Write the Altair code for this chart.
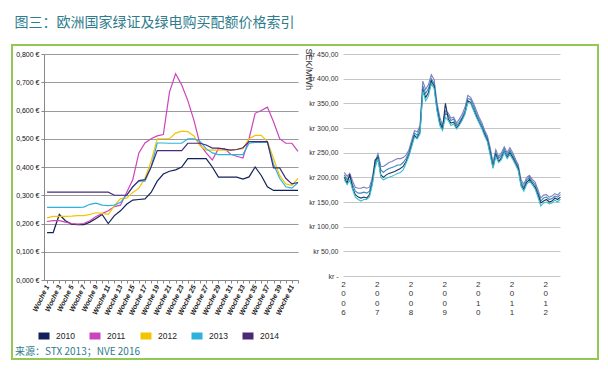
import altair as alt
import pandas as pd

# ---------------- left panel data (EUR per certificate, weekly) ----------------
weeks = list(range(1, 43))
years_left = ["2010", "2011", "2012", "2013", "2014"]
colors_left = ["#13215a", "#cc44bb", "#f2c500", "#2cb2dc", "#4a2a78"]

v2010 = [0.168, 0.168, 0.232, 0.210, 0.198, 0.196, 0.196, 0.205, 0.218, 0.232,
         0.200, 0.228, 0.245, 0.268, 0.283, 0.285, 0.287, 0.310, 0.350, 0.375,
         0.385, 0.390, 0.400, 0.430, 0.430, 0.430, 0.430, 0.400, 0.364, 0.364,
         0.364, 0.364, 0.357, 0.365, 0.400, 0.370, 0.330, 0.317, 0.317, 0.317,
         0.317, 0.317]
v2011 = [0.207, 0.210, 0.210, 0.205, 0.200, 0.198, 0.200, 0.210, 0.225, 0.235,
         0.245, 0.260, 0.265, 0.310, 0.355, 0.450, 0.485, 0.500, 0.510, 0.515,
         0.665, 0.730, 0.690, 0.635, 0.565, 0.480, 0.450, 0.425, 0.465, 0.465,
         0.445, 0.438, 0.432, 0.500, 0.590, 0.600, 0.612, 0.560, 0.500, 0.484,
         0.484, 0.455]
v2012 = [0.220, 0.225, 0.225, 0.225, 0.226, 0.228, 0.228, 0.232, 0.238, 0.236,
         0.232, 0.262, 0.288, 0.290, 0.310, 0.325, 0.360, 0.420, 0.500, 0.500,
         0.500, 0.520, 0.527, 0.525, 0.510, 0.475, 0.460, 0.460, 0.460, 0.460,
         0.460, 0.462, 0.465, 0.500, 0.512, 0.512, 0.490, 0.430, 0.370, 0.340,
         0.335, 0.360]
v2013 = [0.257, 0.257, 0.257, 0.257, 0.257, 0.257, 0.258, 0.268, 0.272, 0.265,
         0.263, 0.265, 0.275, 0.300, 0.330, 0.350, 0.350, 0.400, 0.485, 0.485,
         0.484, 0.484, 0.484, 0.500, 0.500, 0.490, 0.465, 0.450, 0.444, 0.444,
         0.444, 0.444, 0.444, 0.484, 0.487, 0.487, 0.487, 0.410, 0.360, 0.330,
         0.325, 0.345]
v2014 = [0.311, 0.311, 0.311, 0.311, 0.311, 0.311, 0.311, 0.311, 0.311, 0.311,
         0.311, 0.300, 0.300, 0.300, 0.330, 0.352, 0.355, 0.400, 0.458, 0.458,
         0.458, 0.458, 0.458, 0.484, 0.484, 0.484, 0.478, 0.467, 0.467, 0.463,
         0.460, 0.462, 0.468, 0.490, 0.490, 0.490, 0.490, 0.397, 0.397, 0.360,
         0.340, 0.345]
left_ticks = [0.0, 0.1, 0.2, 0.3, 0.4, 0.5, 0.6, 0.7, 0.8]

# ---------------- right panel data (SEK/MWh, monthly 2006-01 .. 2012-06) ----------------
series_right = ["A", "B", "C", "D"]
colors_right = ["#7f82bb", "#3f86c0", "#1c3557", "#38bfd2"]
s_top = [210, 202, 208, 192, 180, 178, 178, 180, 178, 180, 200, 232,
         248, 222, 222, 226, 230, 232, 235, 238, 238, 240, 245, 255,
         275, 295, 292, 305, 395, 378, 388, 408, 398, 352, 322, 305,
         335, 330, 320, 322, 310, 318, 328, 342, 366, 362, 350, 336,
         322, 310, 296, 284, 260, 230, 256, 242, 250, 262, 250, 260,
         250, 236, 226, 195, 186, 200, 204, 196, 190, 175, 158, 164,
         165, 160, 162, 167, 164, 170]
s_mid = [205, 195, 203, 185, 172, 168, 168, 170, 168, 172, 195, 225,
         245, 215, 210, 215, 218, 220, 222, 225, 225, 230, 238, 250,
         270, 290, 285, 300, 385, 370, 380, 400, 390, 345, 315, 300,
         330, 325, 315, 318, 305, 312, 322, 335, 360, 358, 345, 330,
         318, 305, 292, 280, 255, 225, 250, 238, 245, 258, 245, 255,
         245, 232, 222, 190, 180, 195, 200, 192, 185, 170, 152, 158,
         160, 155, 157, 162, 160, 165]
s_navy = [200, 188, 206, 178, 165, 160, 158, 160, 158, 165, 188, 235,
          240, 205, 200, 205, 208, 210, 212, 215, 218, 222, 232, 245,
          265, 285, 280, 292, 378, 362, 372, 395, 385, 340, 310, 298,
          350, 318, 310, 312, 300, 308, 318, 330, 355, 352, 338, 325,
          312, 300, 288, 275, 250, 220, 246, 232, 240, 252, 240, 250,
          240, 228, 218, 185, 176, 190, 196, 188, 180, 165, 148, 152,
          155, 150, 152, 158, 155, 160]
s_cyan = [195, 185, 195, 175, 160, 155, 152, 155, 155, 160, 185, 220,
          238, 200, 195, 198, 200, 202, 205, 208, 210, 215, 228, 242,
          262, 282, 278, 288, 375, 355, 365, 390, 380, 335, 305, 295,
          322, 315, 305, 308, 298, 305, 315, 328, 352, 350, 336, 322,
          310, 298, 284, 272, 245, 218, 242, 230, 236, 250, 238, 246,
          236, 225, 214, 182, 172, 186, 192, 185, 176, 160, 142, 148,
          150, 146, 148, 154, 150, 156]
right_ticks = [0, 50, 100, 150, 200, 250, 300, 350, 400, 450]
year_ticks = [2006, 2007, 2008, 2009, 2010, 2011, 2012]

title_text = "图三：欧洲国家绿证及绿电购买配额价格索引"
source_text = "来源：STX 2013；NVE 2016"

# ---------------- tables ----------------
rows = []
for yr, vals in zip(years_left, [v2010, v2011, v2012, v2013, v2014]):
    for w, v in zip(weeks, vals):
        rows.append({"week": w, "year": yr, "price": v})
df_left = pd.DataFrame(rows)

months = [f"{2006 + i // 12}-{i % 12 + 1:02d}-15" for i in range(len(s_mid))]
rows = []
for name, vals in zip(series_right, [s_top, s_mid, s_navy, s_cyan]):
    for d, v in zip(months, vals):
        rows.append({"date": d, "series": name, "sek": v})
df_right = pd.DataFrame(rows)

teal = "#2e7c8c"

# ---------------- left chart ----------------
left_lines = alt.Chart(df_left).mark_line(strokeWidth=1.2).encode(
    x=alt.X("week:Q",
            scale=alt.Scale(domain=[0.5, 42], nice=False, zero=False),
            axis=alt.Axis(values=weeks, title=None, grid=False,
                          labelExpr="datum.value % 2 == 1 ? 'Woche ' + datum.value : ''",
                          labelAngle=-64, labelAlign="right", labelBaseline="middle",
                          labelFontSize=7, labelFontStyle="italic", labelFontWeight="bold",
                          labelColor="#222", labelPadding=2, labelOverlap=False,
                          domainColor="#888", tickColor="#888", tickSize=3)),
    y=alt.Y("price:Q",
            scale=alt.Scale(domain=[0, 0.8], nice=False),
            axis=alt.Axis(values=left_ticks, title=None, grid=True, gridColor="#9a9a9a",
                          labelExpr="replace(format(datum.value, '.3f'), '.', ',') + ' €'",
                          labelFontSize=7, labelColor="#111", labelPadding=2,
                          domainColor="#888", tickColor="#888", tickSize=3)),
    color=alt.Color("year:N",
                    scale=alt.Scale(domain=years_left, range=colors_left),
                    legend=alt.Legend(orient="none", legendX=-9, legendY=273,
                                      direction="horizontal", title=None,
                                      symbolType="stroke", symbolStrokeWidth=7,
                                      symbolSize=121, labelFontSize=8.5,
                                      labelColor="#222", columnPadding=0,
                                      labelOffset=3)),
)

frame = alt.Chart(pd.DataFrame({"k": [0]})).mark_rect(
    fill="transparent", stroke="#93c852", strokeWidth=2, clip=False
).encode(x=alt.value(-32), x2=alt.value(554), y=alt.value(-9), y2=alt.value(305))

source = alt.Chart(pd.DataFrame({"t": [source_text]})).mark_text(
    align="left", baseline="middle", fontSize=10, color=teal,
    font="Noto Sans CJK SC"
).encode(x=alt.value(-29), y=alt.value(298), text="t:N")

left = alt.layer(frame, left_lines, source).properties(width=254, height=226)

# ---------------- right chart ----------------
right = alt.Chart(df_right).mark_line(strokeWidth=1.1).encode(
    x=alt.X("date:T",
            scale=alt.Scale(domain=[alt.DateTime(year=2006, month=1, date=1),
                                    alt.DateTime(year=2012, month=6, date=10)]),
            axis=alt.Axis(values=[alt.DateTime(year=y, month=1, date=1) for y in year_ticks],
                          format="%Y", labelExpr="split(datum.label, '')",
                          title=None, grid=False, domain=False, ticks=False,
                          labelFontSize=8, labelLineHeight=9.5, labelColor="#333",
                          labelAlign="center", labelBaseline="top", labelPadding=4,
                          labelOverlap=False)),
    y=alt.Y("sek:Q",
            scale=alt.Scale(domain=[0, 450], nice=False),
            axis=alt.Axis(values=right_ticks, title="SEK/MWh", grid=True,
                          gridColor="#c6c6c6", domain=False, ticks=False,
                          labelExpr="datum.value == 0 ? 'kr -' : 'kr ' + replace(format(datum.value, '.2f'), '.', ',')",
                          labelFontSize=7, labelColor="#333", labelPadding=5,
                          labelOverlap=False,
                          titleAngle=90, titleX=-35, titleY=-6, titleAlign="left",
                          titleBaseline="middle", titleFontSize=9,
                          titleFontWeight="normal", titleColor="#333")),
    color=alt.Color("series:N", scale=alt.Scale(domain=series_right, range=colors_right),
                    legend=None),
).properties(width=217, height=222)

chart = alt.hconcat(left, right, spacing=45, bounds="flush").resolve_scale(
    color="independent"
).properties(
    title=alt.Title(title_text, anchor="start", fontSize=14, font="Noto Sans CJK SC",
                    color=teal, fontWeight="normal", offset=14, dx=4),
    padding={"left": 2, "top": 7, "right": 0, "bottom": 0},
).configure_view(stroke="transparent")

chart.save("out.html", embed_options={"renderer": "svg", "actions": False})
